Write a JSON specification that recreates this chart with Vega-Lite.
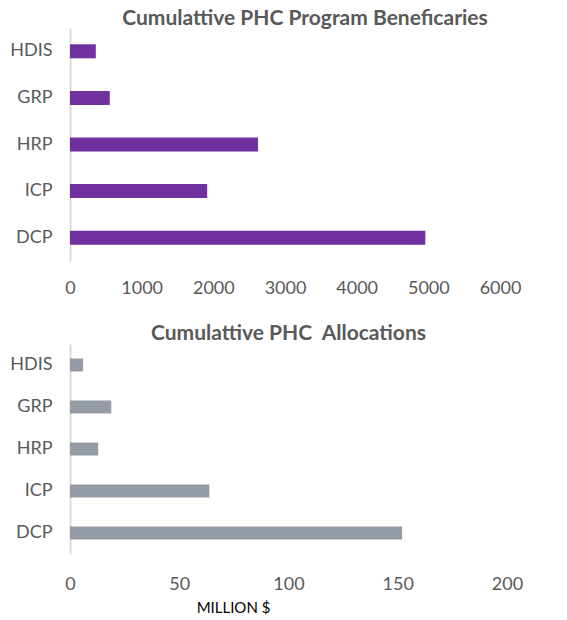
{
  "$schema": "https://vega.github.io/schema/vega-lite/v6.json",
  "background": "white",
  "padding": {"left": 9, "top": 8, "right": 5, "bottom": 2},
  "spacing": 26,
  "datasets": {
    "ben": [
      {"program": "HDIS", "value": 360},
      {"program": "GRP", "value": 555},
      {"program": "HRP", "value": 2623},
      {"program": "ICP", "value": 1914},
      {"program": "DCP", "value": 4958}
    ],
    "alloc": [
      {"program": "HDIS", "value": 6},
      {"program": "GRP", "value": 18.9},
      {"program": "HRP", "value": 12.9},
      {"program": "ICP", "value": 63.8},
      {"program": "DCP", "value": 152}
    ]
  },
  "config": {
    "view": {"stroke": null},
    "font": "Lato",
    "axis": {
      "grid": false,
      "ticks": false,
      "labelFont": "Lato",
      "labelColor": "#595959",
      "labelFontSize": 18,
      "domainColor": "#d9d9d9",
      "domainWidth": 2
    },
    "title": {
      "font": "Lato",
      "fontSize": 21,
      "fontWeight": "bold",
      "color": "#595959"
    }
  },
  "vconcat": [
    {
      "width": 430,
      "height": 233,
      "title": {"text": "Cumulattive PHC Program Beneficaries", "dx": 20, "offset": -1},
      "data": {"name": "ben"},
      "mark": {"type": "bar", "color": "#7030A0", "size": 14},
      "encoding": {
        "y": {
          "field": "program", "type": "nominal",
          "sort": ["HDIS", "GRP", "HRP", "ICP", "DCP"],
          "axis": {"title": null, "labelPadding": 18},
          "scale": {"paddingInner": 0.7, "paddingOuter": 0.35}
        },
        "x": {
          "field": "value", "type": "quantitative",
          "scale": {"domain": [0, 6000], "nice": false},
          "axis": {"title": null, "domain": false, "format": "d", "values": [0, 1000, 2000, 3000, 4000, 5000, 6000], "labelPadding": 18, "labelFlush": false}
        }
      }
    },
    {
      "width": 437,
      "height": 210,
      "title": {"text": "Cumulattive PHC \u00a0Allocations", "offset": 0},
      "data": {"name": "alloc"},
      "mark": {"type": "bar", "color": "#959CA6", "size": 13},
      "encoding": {
        "y": {
          "field": "program", "type": "nominal",
          "sort": ["HDIS", "GRP", "HRP", "ICP", "DCP"],
          "axis": {"title": null, "labelPadding": 18},
          "scale": {"paddingInner": 0.7, "paddingOuter": 0.35}
        },
        "x": {
          "field": "value", "type": "quantitative",
          "scale": {"domain": [0, 200], "nice": false},
          "axis": {
            "title": "MILLION $", "domain": false, "format": "d", "values": [0, 50, 100, 150, 200],
            "labelPadding": 21, "labelFlush": false,
            "titleFont": "Lato", "titleFontWeight": "normal", "titleFontSize": 15, "titleColor": "#000000",
            "titleX": 163, "titlePadding": 7
          }
        }
      }
    }
  ]
}
